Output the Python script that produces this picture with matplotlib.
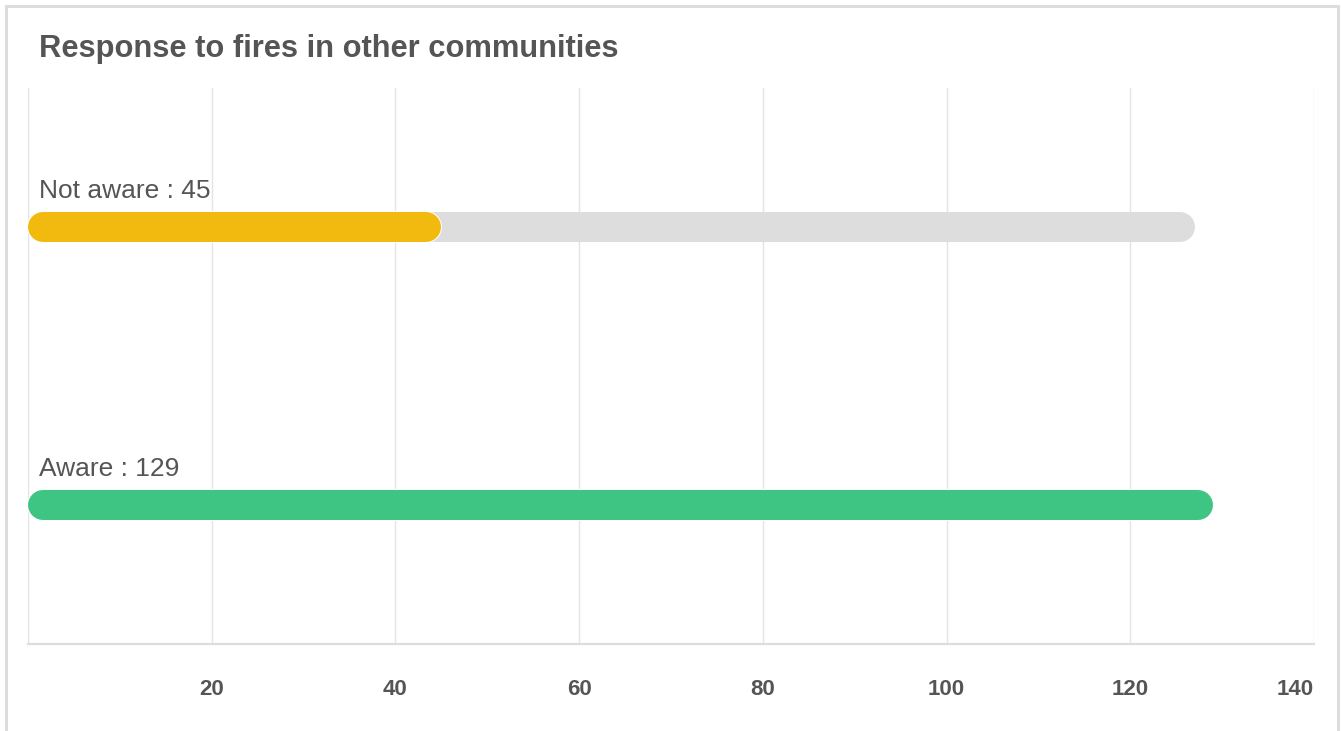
"""Awareness of fires in other communities, as rounded horizontal bars."""

import matplotlib

matplotlib.use("Agg")
import matplotlib.patheffects as pe
import matplotlib.pyplot as plt
from matplotlib.patches import Rectangle

plt.rcParams["font.family"] = ["Liberation Sans", "DejaVu Sans"]

TITLE = "Response to fires in other communities"
categories = ["Aware", "Not aware"]
values = [129, 45]
track_max = [None, 127]
colors = ["#3EC483", "#F2B90F"]
x_ticks = [0, 20, 40, 60, 80, 100, 120, 140]

TEXT = "#555555"
GRID = "#E4E4E4"
TRACK = "#DDDDDD"
DPI = 100
W, H = 1342, 731

fig = plt.figure(figsize=(W / DPI, H / DPI), dpi=DPI)
fig.patch.set_facecolor("white")

# card outline
fig.patches.append(
    Rectangle((6 / W, -0.1), 1332 / W, 1.1 - 6 / H, transform=fig.transFigure,
              fill=False, edgecolor="#DDDDDD", linewidth=2.2)
)
fig.text(39 / W, 1 - 49 / H, TITLE, fontsize=22.2, fontweight="bold",
         color=TEXT, va="center", ha="left")

left, right, top, bottom = 28, 1314, 88, 644
ax = fig.add_axes([left / W, 1 - bottom / H, (right - left) / W, (bottom - top) / H])
ax.set_xlim(0, 140)
ax.set_ylim(-0.5, 1.5)

bar_px = 30
px_per_unit = (right - left) / 140
half = (bar_px / 2) / px_per_unit
lw = bar_px * 72 / DPI

for pos, (name, value, track, color) in enumerate(zip(categories, values, track_max, colors)):
    if track is not None:
        ax.plot([half, track - half], [pos, pos], color=TRACK, lw=lw,
                solid_capstyle="round", zorder=2)
    ax.plot([half, value - half], [pos, pos], color=color, lw=lw,
            solid_capstyle="round", zorder=3,
            path_effects=[pe.Stroke(linewidth=lw + 1.5, foreground="white"), pe.Normal()])
    ax.annotate(f"{name} : {value}", xy=(0, pos), xytext=(11, 29),
                textcoords="offset pixels", fontsize=19, color=TEXT,
                ha="left", va="baseline")

ax.set_xticks(x_ticks)
ax.set_xticklabels([""] + [str(t) for t in x_ticks[1:]])
ax.set_yticks([])
ax.grid(axis="x", color=GRID, linewidth=1.0, zorder=0)
ax.tick_params(axis="x", length=0, pad=25, labelsize=16, labelcolor=TEXT)
for lab in ax.get_xticklabels():
    lab.set_fontweight("bold")
ax.get_xticklabels()[-1].set_ha("right")
for side in ("top", "right", "left"):
    ax.spines[side].set_visible(False)
ax.spines["bottom"].set_color("#DDDDDD")
ax.spines["bottom"].set_linewidth(1.6)

fig.savefig("out.png", dpi=DPI)
